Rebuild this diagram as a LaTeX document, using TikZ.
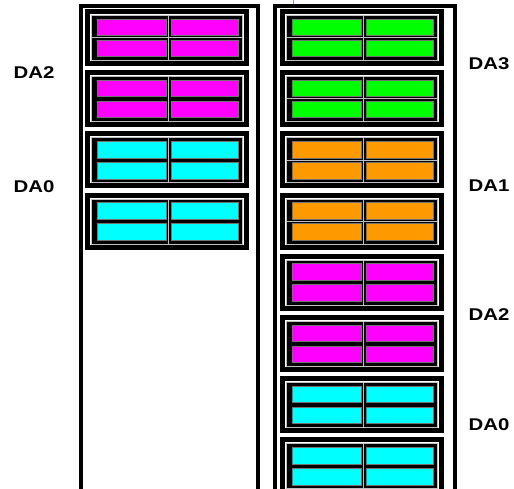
\documentclass[tikz,border=0pt]{standalone}
\usepackage{fontspec}
\setmainfont{Liberation Sans}
\usetikzlibrary{positioning}
\definecolor{DAMagenta}{HTML}{FF00FF}
\definecolor{DACyan}{HTML}{00FFFF}
\definecolor{DAGreen}{HTML}{00FF00}
\definecolor{DAOrange}{HTML}{FF9900}
\definecolor{DATick}{HTML}{8C8CE6}

\tikzset{
  shelf/.style={line width=4pt, black},
  frame/.style={line width=5pt, black},
  bay/.style={fill=black, draw=black!25, line width=1pt},
  divider/.style={black!25, line width=1pt},
  cell/.style={draw=black!55, line width=0.8pt},
  lbl/.style={font=\bfseries\fontsize{17}{19}\selectfont, xscale=1.2}
}

% one drive module: x0, y0, colour, thin row divider (1) or black bar (0)
\newcommand{\drive}[4]{%
  \begin{scope}[shift={(#1,#2)}]
    \draw[frame] (2.5,2.5) rectangle (161.5,54.5);
    \draw[bay] (6.5,6.5) rectangle (157.5,51.5);
    \draw[divider] (83.5,6.5) -- (83.5,51.5);
    \ifnum#4=1 \draw[divider] (6.5,28.75) -- (157.5,28.75); \fi
    \foreach \cx/\cw in {12/69,86/67}
      \foreach \cy in {10,31}
        \draw[cell, fill=#3] (\cx,\cy) rectangle ++(\cw,16.5);
  \end{scope}}

\begin{document}
\begin{tikzpicture}[x=1pt, y=-1pt]
    \clip (0,0) rectangle (514,488);
    \fill[white] (0,0) rectangle (514,488);

    % Shelves
    \draw[shelf] (81,500) |- (258,5.5) -- (258,500);
    \draw[shelf] (275,500) |- (454.5,5.5) -- (454.5,500);
    \draw[DATick, line width=1pt] (293,0) -- (293,4);

    % Left shelf modules
    \drive{85}{9}{DAMagenta}{1}
    \drive{85}{70.2}{DAMagenta}{0}
    \drive{85}{131.4}{DACyan}{0}
    \drive{85}{192.6}{DACyan}{0}

    % Right shelf modules
    \drive{280}{9}{DAGreen}{1}
    \drive{280}{70.2}{DAGreen}{1}
    \drive{280}{131.4}{DAOrange}{1}
    \drive{280}{192.6}{DAOrange}{1}
    \drive{280}{253.8}{DAMagenta}{0}
    \drive{280}{315}{DAMagenta}{0}
    \drive{280}{376.2}{DACyan}{0}
    \drive{280}{437.4}{DACyan}{0}

    % Labels
    \node[lbl] (leftDA2) at (34,72.5) {DA2};
    \node[lbl] (leftDA0) at (34,186.5) {DA0};
    \node[lbl] (rightDA3) at (489,64) {DA3};
    \node[lbl] (rightDA1) at (489,186) {DA1};
    \node[lbl] (rightDA2) at (489,315) {DA2};
    \node[lbl] (rightDA0) at (489,425) {DA0};

\end{tikzpicture}
\end{document}
